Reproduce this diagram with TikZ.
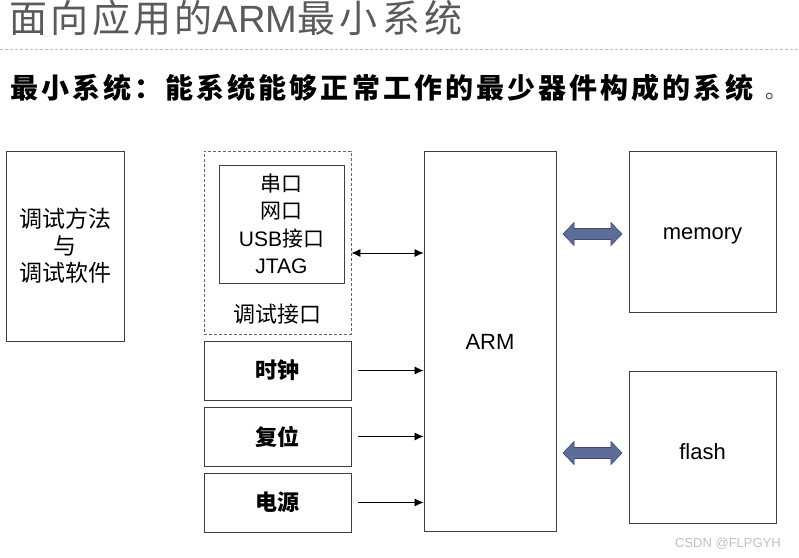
\documentclass[tikz,border=0pt]{standalone}
\usepackage{fontspec}
\setmainfont{Liberation Sans}
\newfontfamily\cjk{Noto Sans CJK SC}
\usetikzlibrary{arrows.meta}
\definecolor{boxline}{HTML}{404040}
\definecolor{titlegray}{HTML}{5A5A5A}
\definecolor{rulecol}{HTML}{B8C2D0}
\definecolor{blockfill}{HTML}{5E6C9A}
\definecolor{blockline}{HTML}{3E4A70}
\begin{document}
\begin{tikzpicture}[x=1pt,y=-1pt,
  bx/.style={draw=boxline, line width=0.9pt, inner sep=0pt, align=center,
    minimum width=#1},
  bx/.default=147pt,
  lbl/.style={font=\fontsize{22}{27}\selectfont, align=center},
  conn/.style={line width=0.8pt, -{Latex[length=9pt,width=8pt]}},
  blockarrow/.style={fill=blockfill, draw=blockline, line width=0.6pt}
]
\useasboundingbox (0,0) rectangle (799,557);
% title
\node[anchor=base west, inner sep=0pt, text=titlegray,
  font=\fontsize{38}{40}\selectfont] (title) at (9,32)
  {{\cjk\addfontfeature{LetterSpace=9}面向应用的}ARM{\cjk\addfontfeature{LetterSpace=12}最小系统}};
\draw[rulecol, dashed, dash pattern=on 3pt off 2pt, line width=0.8pt] (0,49) -- (799,49);
% subtitle
\node[anchor=base west, inner sep=0pt, font=\fontsize{28}{30}\selectfont\bfseries] (sub) at (10,98)
  {\cjk\addfontfeature{LetterSpace=11}最小系统：能系统能够正常工作的最少器件构成的系统};
\node[anchor=base, inner sep=0pt, text=blockline, font=\fontsize{22}{24}\selectfont] (dot) at (776,98) {\cjk 。};

% left box
\node[bx=118pt, minimum height=190pt, lbl, font=\fontsize{23}{27}\selectfont] (left) at (65,246)
  {\cjk 调试方法\\ \cjk 与\\ \cjk 调试软件};
% debug interface (dashed)
\node[bx, minimum height=183pt, dashed, dash pattern=on 3pt off 2pt, draw=boxline!80] (dbg) at (277.5,242.5) {};
\node[bx=125pt, minimum height=118pt, lbl, font=\fontsize{21}{27.5}\selectfont] (inner) at (281.5,224)
  {\cjk 串口\\ \cjk 网口\\ USB{\cjk 接口}\\ JTAG};
\node[lbl] (dbglbl) at (277.5,314) {\cjk 调试接口};
% clock, reset, power
\node[bx, minimum height=59pt, lbl] (clk) at (277.5,370.5) {\cjk\bfseries 时钟};
\node[bx, minimum height=59pt, lbl] (rst) at (277.5,436.5) {\cjk\bfseries 复位};
\node[bx, minimum height=59pt, lbl] (pwr) at (277.5,502.5) {\cjk\bfseries 电源};
% ARM
\node[bx=132pt, minimum height=380pt] (arm) at (490,341) {};
\node[lbl] (armlbl) at ([yshift=-1pt]arm.center) {ARM};
% memory, flash
\node[bx, minimum height=161pt] (mem) at (702.5,231.5) {};
\node[lbl] (memlbl) at ([yshift=-4pt]mem.center) {memory};
\node[bx, minimum height=152pt] (flash) at (702.5,447) {};
\node[lbl] (flashlbl) at ([yshift=-5pt]flash.center) {flash};

% connectors
\draw[line width=0.8pt, {Latex[length=9pt,width=8pt]}-{Latex[length=9pt,width=8pt]}]
  (dbg.east |- 0,253) -- (arm.west |- 0,253);
\draw[conn] ([xshift=7pt]clk.east) -- (clk.east -| arm.west);
\draw[conn] ([xshift=7pt]rst.east) -- (rst.east -| arm.west);
\draw[conn] ([xshift=7pt]pwr.east) -- (pwr.east -| arm.west);

% block double arrows
\coordinate (ma) at (592.5,234);
\coordinate (fa) at (592.5,453);
\foreach \c in {ma,fa}{
  \draw[blockarrow] ([shift={(-29.5,0)}]\c) -- ++(11,-11.5) -- ++(0,6) -- ++(37,0) -- ++(0,-6)
    -- ++(11,11.5) -- ++(-11,11.5) -- ++(0,-6) -- ++(-37,0) -- ++(0,6) -- cycle;
}

% watermark
\node[anchor=base east, inner sep=0pt, text=black!25, font=\fontsize{13}{14}\selectfont] (wm) at (781,547) {CSDN @FLPGYH};
\end{tikzpicture}
\end{document}
